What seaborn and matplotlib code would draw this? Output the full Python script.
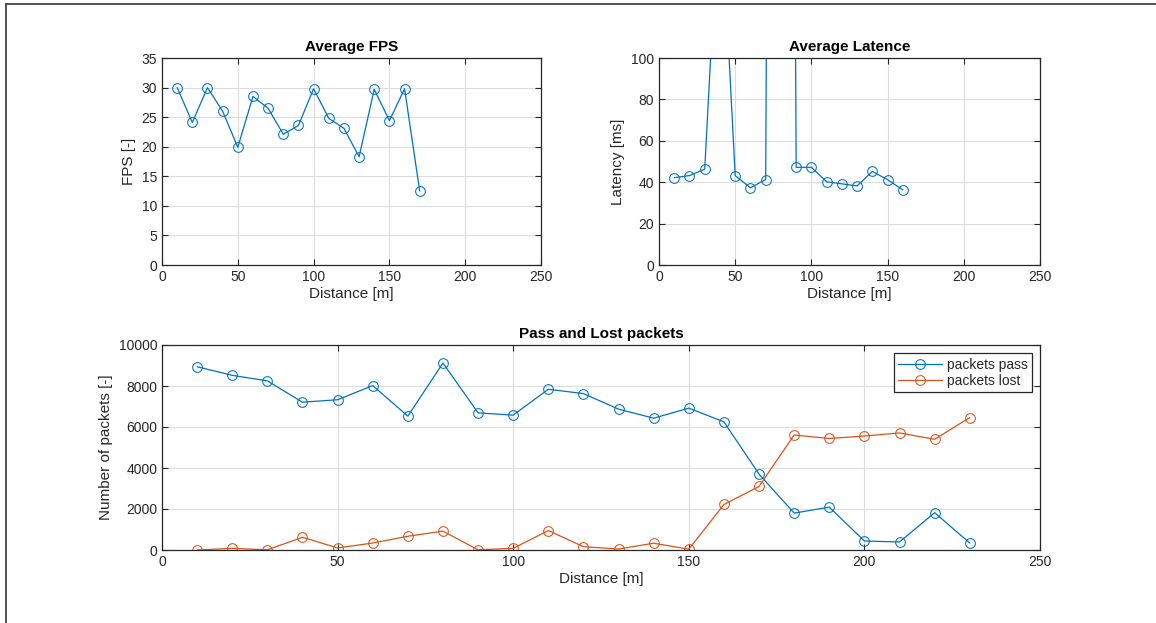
import numpy as np
import pandas as pd
import matplotlib
matplotlib.use("Agg")
import matplotlib.pyplot as plt
from matplotlib.lines import Line2D
import seaborn as sns

# --- data ---
fps_dist = [10, 20, 30, 40, 50, 60, 70, 80, 90, 100, 110, 120, 130, 140, 150, 160, 170]
fps_vals = [30.0, 24.1, 30.0, 26.0, 19.9, 28.5, 26.5, 22.1, 23.6, 29.8, 24.8, 23.1, 18.3, 29.7, 24.4, 29.8, 12.5]

lat_dist = [10, 20, 30, 40, 50, 60, 70, 80, 90, 100, 110, 120, 130, 140, 150, 160]
lat_vals = [42.2, 43.2, 46.3, 185.0, 43.2, 37.3, 41.3, 1500.0, 47.2, 47.2, 40.2, 39.2, 38.2, 45.2, 41.2, 36.3]

pk_dist = [10, 20, 30, 40, 50, 60, 70, 80, 90, 100, 110, 120,
           130, 140, 150, 160, 170, 180, 190, 200, 210, 220, 230]
pk_pass = [8940, 8520, 8250, 7210, 7330, 8020, 6530, 9120, 6690, 6580, 7840, 7630,
           6870, 6430, 6920, 6250, 3700, 1800, 2090, 440, 390, 1820, 340]
pk_lost = [0, 80, 10, 620, 100, 340, 670, 920, 10, 80, 950, 160,
           50, 330, 40, 2220, 3100, 5610, 5440, 5560, 5710, 5400, 6460]

blue = "#0072BD"
orange = "#D95319"

sns.set_style("ticks")
plt.rcParams['font.family'] = ['Liberation Sans', 'DejaVu Sans']
plt.rcParams['axes.edgecolor'] = '#262626'
plt.rcParams['xtick.color'] = '#262626'
plt.rcParams['ytick.color'] = '#262626'
plt.rcParams['xtick.direction'] = 'in'
plt.rcParams['ytick.direction'] = 'in'

fig = plt.figure(figsize=(11.56, 6.23), dpi=100)
W, H = 1156, 623


def px_axes(x0, y0, x1, y1):
    return fig.add_axes([x0 / W, 1 - y1 / H, (x1 - x0) / W, (y1 - y0) / H])


def style(ax, title, xlabel, ylabel):
    ax.set_title(title, fontsize=11, fontweight='bold', color='black', pad=5)
    ax.set_xlabel(xlabel, fontsize=11, color='#262626', labelpad=2)
    ax.set_ylabel(ylabel, fontsize=11, color='#262626', labelpad=4)
    ax.grid(True, color='#dcdcdc', linewidth=0.8)
    ax.set_axisbelow(True)
    ax.tick_params(labelsize=10, length=4, width=0.8, top=True, right=True)
    for s in ax.spines.values():
        s.set_visible(True)
        s.set_linewidth(0.9)


mk = dict(marker='o', markersize=7, markerfacecolor='none', linewidth=0.9)

ax1 = px_axes(162, 58, 541, 265)
df1 = pd.DataFrame({'d': fps_dist, 'v': fps_vals})
sns.lineplot(data=df1, x='d', y='v', ax=ax1, color=blue, markeredgecolor=blue, **mk)
ax1.set_xlim(0, 250)
ax1.set_ylim(0, 35)
ax1.set_xticks(np.arange(0, 251, 50))
ax1.set_yticks(np.arange(0, 36, 5))
style(ax1, 'Average FPS', 'Distance [m]', 'FPS [-]')

ax2 = px_axes(659, 58, 1040, 265)
df2 = pd.DataFrame({'d': lat_dist, 'v': lat_vals})
sns.lineplot(data=df2, x='d', y='v', ax=ax2, color=blue, markeredgecolor=blue, **mk)
ax2.set_xlim(0, 250)
ax2.set_ylim(0, 100)
ax2.set_xticks(np.arange(0, 251, 50))
ax2.set_yticks(np.arange(0, 101, 20))
style(ax2, 'Average Latence', 'Distance [m]', 'Latency [ms]')

ax3 = px_axes(162, 345, 1040, 550)
df3 = pd.DataFrame({'d': pk_dist, 'packets pass': pk_pass, 'packets lost': pk_lost})
sns.lineplot(data=df3, x='d', y='packets pass', ax=ax3, color=blue, markeredgecolor=blue,
             label='packets pass', **mk)
sns.lineplot(data=df3, x='d', y='packets lost', ax=ax3, color=orange, markeredgecolor=orange,
             label='packets lost', **mk)
ax3.set_xlim(0, 250)
ax3.set_ylim(0, 10000)
ax3.set_xticks(np.arange(0, 251, 50))
ax3.set_yticks(np.arange(0, 10001, 2000))
style(ax3, 'Pass and Lost packets', 'Distance [m]', 'Number of packets [-]')
leg = ax3.legend(loc='upper right', fontsize=10, frameon=True, fancybox=False,
                 edgecolor='#262626', framealpha=1, borderpad=0.3, handlelength=3.2,
                 handletextpad=0.3, labelspacing=0.2, borderaxespad=0.6)
leg.get_frame().set_linewidth(0.9)

# outer frame (left and top edges only)
fig.add_artist(Line2D([6 / W, 6 / W], [0, 1 - 4 / H], transform=fig.transFigure,
                      color='#333333', linewidth=1.2))
fig.add_artist(Line2D([6 / W, 1], [1 - 4 / H, 1 - 4 / H], transform=fig.transFigure,
                      color='#333333', linewidth=1.2))

fig.savefig('out.png', dpi=100, facecolor='white')
